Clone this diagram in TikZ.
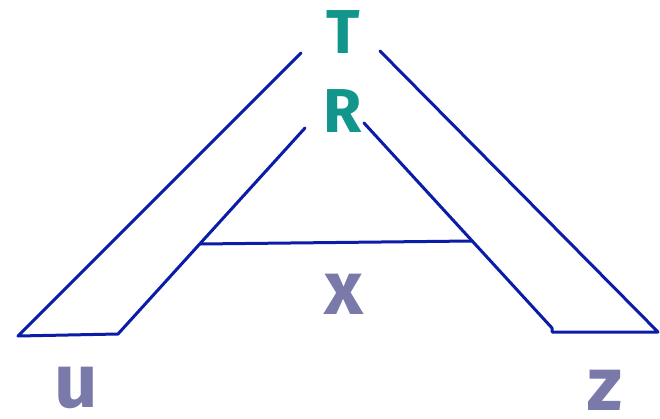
\documentclass[tikz,border=0pt]{standalone}
\usepackage{fontspec}
\setmainfont{Fira Sans}
\definecolor{lineblue}{RGB}{10,28,168}
\definecolor{tealc}{RGB}{18,150,140}
\definecolor{slate}{RGB}{122,122,170}
\begin{document}
\begin{tikzpicture}[x=1pt,y=-1pt,
  edge/.style={draw=lineblue,line width=3pt,line cap=round,line join=round},
  toplab/.style={text=tealc,font=\bfseries\fontsize{62}{62}\selectfont,inner sep=0pt},
  lowlab/.style={text=slate,font=\bfseries\fontsize{76}{76}\selectfont,inner sep=0pt}]
\useasboundingbox (0,0) rectangle (660,419);
% outer left leg
\coordinate (lo1) at (301,53);
\coordinate (lo2) at (18,336);
\coordinate (lb) at (118,334);
\coordinate (li1) at (305,128);
% right leg
\coordinate (ro1) at (380,51);
\coordinate (ro2) at (658,332);
\coordinate (rb) at (552,332);
\coordinate (rbs) at (552,328);
\coordinate (ri1) at (364,123);
% crossbar
\coordinate (c1) at (200,244);
\coordinate (c2) at (472,241);
\draw[edge] (lo1) -- (lo2) -- (lb) -- (li1);
\draw[edge] (ro1) -- (ro2) -- (rb) -- (rbs) -- (ri1);
\draw[edge] (c1) -- (c2);
\node[toplab] (T) at (343,32) {T};
\node[toplab] (R) at (343,111) {R};
\node[lowlab] (X) at (344,294) {x};
\node[lowlab] (U) at (76,388) {u};
\node[lowlab] (Z) at (605,390) {z};
\end{tikzpicture}
\end{document}
